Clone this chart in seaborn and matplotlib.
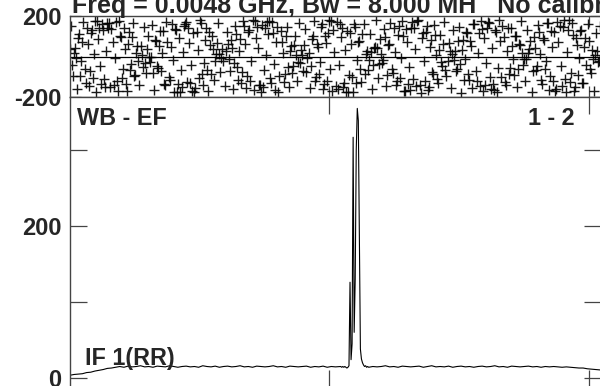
import numpy as np
import matplotlib
matplotlib.use("Agg")
import matplotlib.pyplot as plt
import seaborn as sns

# ---------------- data ----------------
title_text = "Freq = 0.0048 GHz, Bw = 8.000 MH   No calibration"
baseline_label = "WB - EF"
pair_label = "1 - 2"
if_label = "IF 1(RR)"

# amplitude spectrum: channels 0..260 every 4 channels
spec_lo = [3.5, 4.5, 5, 5.5, 7, 7.5, 9, 10, 11, 12.5, 13, 14,
           15, 14, 15.5, 14.5, 15, 16, 14.5, 15, 14, 15.5, 15, 14.5, 16, 15, 14, 15, 15.5, 14.5,
           15, 14, 16, 15, 14.5, 15.5, 14, 15, 15.5, 14.5, 15, 16, 14.5, 15, 14, 15.5, 15, 14.5,
           15, 16, 14.5, 15, 14, 15.5, 15, 14.5, 15, 15.5, 14, 15, 14.5, 15.5, 14, 15, 14.5, 15]
# channels 261..288 every channel (line region)
spec_peak = [15, 14, 15, 14, 15, 14, 13, 14, 16, 126, 24, 45, 317, 60, 130, 300, 355, 339,
             192, 38, 25, 20, 17, 15, 16, 14, 15, 14]
# channels 292..511
spec_hi = [15, 14.5, 15, 16, 14.5, 15, 14, 15.5, 15, 14.5, 15, 15.5, 14, 15, 16, 14.5, 15, 14.5,
           15.5, 14, 15, 15.5, 14.5, 15, 14, 15, 15.5, 14.5, 15, 16, 14.5, 15, 14, 15.5, 15, 14.5,
           15, 15.5, 14.5, 15, 14, 15, 14.5, 15, 14.5, 14, 14.5, 14, 13.5, 13, 13, 12, 11.5, 11, 10.5]

# phase (degrees)
# two wavy bands, every 4th channel (ch = 4k and 4k+2)
phase_band_a = [
    35, 15, 90, 70, 140, 118, 175, 140, 130, 165, 135, 172, 100, 140, 60, 95, 15, 50, -30, 0,
    -80, -45, -70, -140, -115, -175, -135, -150, 170, -130, -175, -105, -140, -65, -85, -20,
    10, -20, 60, 40, 110, 85, 150, 120, 178, 145, -175, 140, 175, 115, 145, 70, 100, 25, 55, -25,
    5, -75, -45, -120, -85, -160, -120, 175, -145, 160, -130, -175, -100, -130, -60, -85,
    -15, -40, 40, 10, 95, 60, 140, 105, 175, 135, -165, 140, 178, 115, 150, 80, 105, 30, 60, -20,
    10, -70, -35, -115, -85, -155, -120, 175, -140, 165, -135, -175, -100, -140, -55, -90,
    -60, 15, -10, 75, 40, 120, 90, 165, 125, -170, 150, 178, 130, 165, 90, 125, 45, 75, -10, 25,
]
phase_band_b = [
    -40, -5, -95, -60, -145, -105, 175, -135, -150, 165, -140, -170, -105, -135, -65, -95, -20, -50,
    35, 0, 80, 50, 125, 70, 160, 130, -175, 150, 140, -170, 120, 165, 80, 120, 35, 65,
    -5, 25, -70, -30, -115, -75, -155, -120, 175, -140, -150, 170, -130, -165, -95, -125, -50, -80,
    5, -30, 55, 15, 100, 60, 145, 100, 178, 130, -160, 140, -175, 115, 160, 70, 110, 25,
    20, 45, -35, -15, -90, -60, -140, -105, -170, -135, 170, -145, -180, -120, -150, -85, -110, -25,
    -65, 25, -15, 75, 30, 120, 75, 160, 115, -170, 140, -160, 130, 178, 95, 140, 50, 100,
    55, -10, 15, -70, -45, -115, -60, -165, -120, 170, -145, -175, -125, -170, -90, -130, -40, -80, 5, -20,
]
# scattered phases, odd channels
phase_scatter = [
    150, -95, 40, -160, 110, -20, 170, -130, 60, -70, 130, 10, -175, 85, -45, 160, -110, 25, 140, -150, 70, -5, -120, 175, 95, -60, 35, -170, 120, -35, 165, -90, 50, -140, 5, 145, -80, 100, -25, 155, -165, 75, -55, 125, 15, -135, 170, -100, 45, -15, 135, -175, 90, -65, 20, 160, -125, 65, -40, 115, -155, 30, 178, -85,
    -30, 140, -170, 55, 100, -115, 10, 165, -75, 35, -145, 120, -10, 80, -160, 150, -50, 25, -130, 175, 60, -95, 130, -20, -165, 90, 40, -140, 155, -65, 5, 110, -105, 170, -35, 70, -175, 125, 15, -85, 145, -150, 50, -45, 100, -120, 165, 30, -70, 135, -5, -155, 85, 175, -100, 45, -25, 160, -135, 65, 115, -60, -170, 20,
    170, -40, 95, -150, 30, 125, -90, 60, -175, 145, -15, 75, -125, 160, 10, -65, 110, -160, 40, 180, -105, 85, -30, 135, -145, 55, 165, -80, 20, -120, 150, -5, 100, -170, 70, -50, 140, -110, 35, 175, -140, 90, -20, 120, -165, 45, -75, 155, 5, -130, 105, -45, 170, -95, 65, -155, 130, 25, -60, 145, -180, 80, -10, 115,
    -115, 50, 160, -70, 15, -145, 135, 90, -30, 170, -100, 40, -165, 120, -55, 75, 150, -125, 25, -85, 140, -10, 100, -150, 60, 175, -40, -120, 130, 35, -175, 95, -65, 155, 10, -135, 80, -20, 165, -95, 45, 120, -160, 70, -45, 145, -110, 20, 180, -80, 105, -150, 55, -5, 130, -130, 90, 160, -60, 30, -170, 115, -25, 150,
]

x_ticks = [250, 500]
amp_ticks = [0, 100, 200, 300]
amp_ticklabels = ["0", "", "200", ""]
phase_ticks = [-200, 200]
phase_ticklabels = ["-200", "200"]

# ---------------- figure ----------------
sns.set_style("ticks")
plt.rcParams["font.family"] = ["Liberation Sans", "DejaVu Sans"]
plt.rcParams["font.weight"] = "bold"

W, H = 600, 386
fig = plt.figure(figsize=(W / 100, H / 100), dpi=100)

def fx(px):
    return px / W

def fy(py):
    return 1 - py / H

left, right = fx(70), fx(601)
ax1 = fig.add_axes([left, fy(97), right - left, fy(16) - fy(97)])
ax2 = fig.add_axes([left, fy(387), right - left, fy(97) - fy(387)])

# spectrum
spec_x = np.concatenate([np.linspace(0, 260, len(spec_lo)),
                         np.arange(len(spec_peak)) + 261,
                         np.linspace(292, 511, len(spec_hi))])
spec_y = np.concatenate([spec_lo, spec_peak, spec_hi])
sns.lineplot(x=spec_x, y=spec_y, ax=ax2, color="black", linewidth=0.8,
             estimator=None, sort=False)

# phase
ph_x = np.concatenate([np.arange(len(phase_band_a)) * 4,
                       np.arange(len(phase_band_b)) * 4 + 2,
                       np.arange(len(phase_scatter)) * 2 + 1])
ph_y = np.concatenate([np.asarray(phase_band_a, dtype=float),
                       np.asarray(phase_band_b, dtype=float),
                       np.asarray(phase_scatter, dtype=float)])
sns.scatterplot(x=ph_x, y=ph_y, ax=ax1, marker="+", color="black",
                s=60, linewidth=1.0, alpha=0.9)
ax1.axhline(0, color="black", linewidth=0.9)

for ax in (ax1, ax2):
    ax.set_xlim(0, 512)
    for sp in ax.spines.values():
        sp.set_color("#444444")
        sp.set_linewidth(1.0)
    ax.set_xticks(x_ticks)
    ax.set_xticklabels([])

ax1.set_ylim(-200, 200)
ax1.set_yticks(phase_ticks)
ax1.set_yticklabels(phase_ticklabels)
ax1.tick_params(axis="x", direction="in", length=8, width=0.9, color="#444444",
                top=True, bottom=True)
ax1.tick_params(axis="y", direction="in", length=8, width=0.9, color="#444444",
                left=True, right=True, labelsize=17, pad=6)

ax2.set_ylim(-12, 370)
ax2.set_yticks(amp_ticks)
ax2.set_yticklabels(amp_ticklabels)
ax2.tick_params(axis="x", direction="in", length=12, width=0.9, color="#444444",
                top=True, bottom=True)
ax2.tick_params(axis="y", direction="in", length=12, width=0.9, color="#444444",
                left=True, right=True, labelsize=17, pad=6)

for lab in ax1.get_yticklabels() + ax2.get_yticklabels():
    lab.set_fontweight("bold")

fig.text(fx(72), fy(12.5), title_text, fontsize=18, fontweight="bold", va="baseline", ha="left")
fig.text(fx(77), fy(125), baseline_label, fontsize=16.8, fontweight="bold", va="baseline", ha="left")
fig.text(fx(574), fy(125), pair_label, fontsize=16.8, fontweight="bold", va="baseline", ha="right")
fig.text(fx(85), fy(365), if_label, fontsize=16.8, fontweight="bold", va="baseline", ha="left")

fig.savefig("out.png", dpi=100)
